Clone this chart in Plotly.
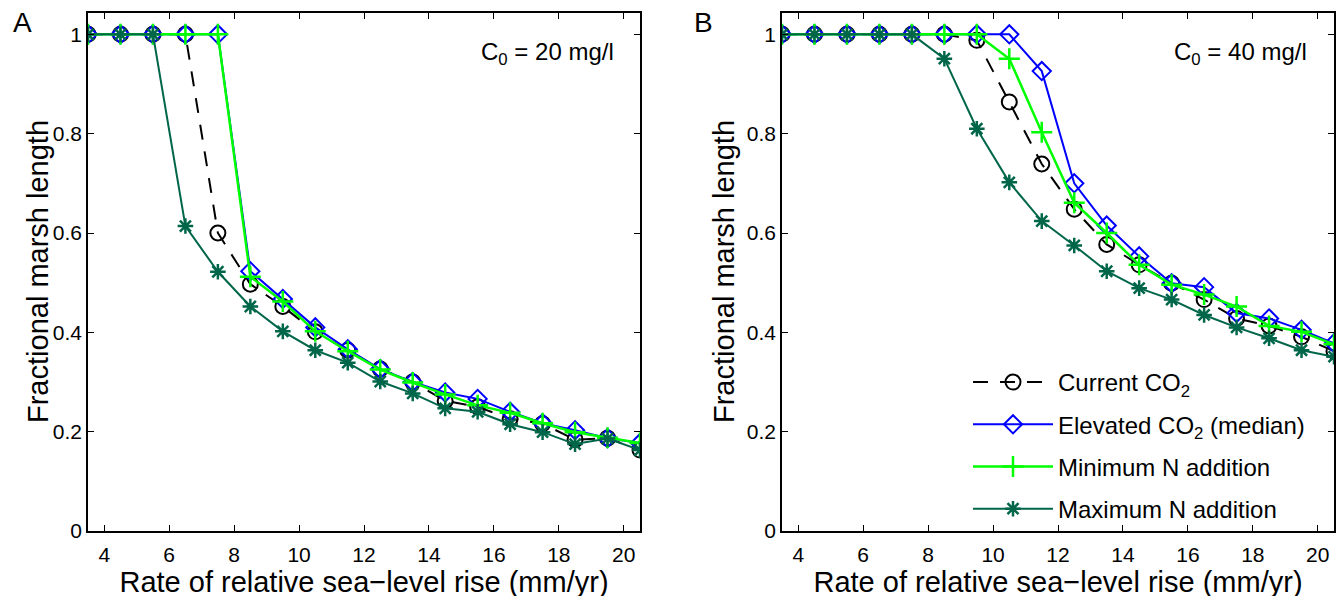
import plotly.graph_objects as go

# ---------------- data ----------------
x_rate = [3.5, 4.5, 5.5, 6.5, 7.5, 8.5, 9.5, 10.5, 11.5, 12.5, 13.5, 14.5, 15.5, 16.5, 17.5, 18.5, 19.5, 20.5]

# Panel A: C0 = 20 mg/l
a_current = [1, 1, 1, 1, 0.60, 0.497, 0.452, 0.401, 0.364, 0.326, 0.300, 0.262, 0.250, 0.226, 0.216, 0.184, 0.187, 0.163]
a_elevated = [1, 1, 1, 1, 1, 0.523, 0.467, 0.410, 0.366, 0.326, 0.300, 0.279, 0.266, 0.240, 0.217, 0.203, 0.187, 0.177]
a_min_n = [1, 1, 1, 1, 1, 0.512, 0.462, 0.402, 0.362, 0.325, 0.299, 0.275, 0.253, 0.238, 0.217, 0.199, 0.188, 0.177]
a_max_n = [1, 1, 1, 0.614, 0.522, 0.452, 0.402, 0.364, 0.339, 0.301, 0.277, 0.247, 0.240, 0.215, 0.199, 0.175, 0.186, 0.163]

# Panel B: C0 = 40 mg/l
b_current = [1, 1, 1, 1, 1, 1, 0.988, 0.864, 0.739, 0.648, 0.577, 0.536, 0.499, 0.466, 0.428, 0.413, 0.391, 0.362]
b_elevated = [1, 1, 1, 1, 1, 1, 1, 1, 0.926, 0.700, 0.615, 0.553, 0.499, 0.491, 0.439, 0.428, 0.405, 0.378]
b_min_n = [1, 1, 1, 1, 1, 1, 1, 0.951, 0.803, 0.661, 0.600, 0.536, 0.496, 0.476, 0.452, 0.413, 0.401, 0.376]
b_max_n = [1, 1, 1, 1, 1, 0.951, 0.810, 0.702, 0.624, 0.575, 0.523, 0.489, 0.466, 0.435, 0.410, 0.388, 0.364, 0.351]

series_names = ["Current CO<sub>2</sub>", "Elevated CO<sub>2</sub> (median)", "Minimum N addition", "Maximum N addition"]
x_ticks = [4, 6, 8, 10, 12, 14, 16, 18, 20]
y_ticks = [0, 0.2, 0.4, 0.6, 0.8, 1]
y_tick_text = ["0", "0.2", "0.4", "0.6", "0.8", "1"]
panel_labels = ["A", "B"]
conc_labels = ["C<sub>0</sub> = 20 mg/l", "C<sub>0</sub> = 40 mg/l"]
x_title = "Rate of relative sea\u2212level rise (mm/yr)"
y_title = "Fractional marsh length"

# ---------------- styles ----------------
FONT = "Liberation Sans, Arial, Helvetica, sans-serif"
DKGREEN = "#00664a"
styles = [
    dict(line=dict(color="black", width=2, dash="15px,12px"),
         marker=dict(symbol="circle-open", size=15, color="black", line=dict(width=2, color="black"))),
    dict(line=dict(color="#0000ff", width=2),
         marker=dict(symbol="diamond-open", size=14, color="#0000ff", line=dict(width=2, color="#0000ff"))),
    dict(line=dict(color="#00ff00", width=2.5),
         marker=dict(symbol="cross-thin-open", size=15, color="#00ff00", line=dict(width=2.5, color="#00ff00"))),
    dict(line=dict(color=DKGREEN, width=2),
         marker=dict(symbol="asterisk-open", size=13, color=DKGREEN, line=dict(width=2.5, color=DKGREEN))),
]

W, H = 1344, 596
OFF = 8  # page body margin
fig = go.Figure()

panels = [
    ([a_current, a_elevated, a_min_n, a_max_n], "x", "y", False),
    ([b_current, b_elevated, b_min_n, b_max_n], "x2", "y2", True),
]
for series, xa, ya, show in panels:
    for i, ys in enumerate(series):
        fig.add_trace(go.Scatter(
            x=x_rate, y=ys, mode="lines+markers", name=series_names[i],
            xaxis=xa, yaxis=ya, showlegend=show, legendgroup=f"g{i}",
            line=styles[i]["line"], marker=styles[i]["marker"],
        ))

def px_x(p):
    return (p - OFF) / W

def px_y(p):
    return 1 - (p - OFF) / H

dom_y = [px_y(531), px_y(13)]
axis_common = dict(
    showline=True, linecolor="black", linewidth=1.5, mirror="allticks",
    ticks="inside", ticklen=6, tickwidth=1, tickcolor="black",
    showgrid=False, zeroline=False,
    tickfont=dict(family=FONT, size=21, color="black"),
)
TITLE_FONT = dict(family=FONT, size=29, color="black")
xaxis_common = dict(axis_common, range=[3.5, 20.5], tickvals=x_ticks, ticklabelstandoff=4,
                    title=dict(text=x_title, font=TITLE_FONT, standoff=0))
yaxis_common = dict(axis_common, range=[0, 1.043], tickvals=y_ticks, ticktext=y_tick_text,
                    ticklabelstandoff=0)

fig.update_layout(
    width=W, height=H,
    paper_bgcolor="white", plot_bgcolor="white",
    margin=dict(l=0, r=0, t=0, b=0, autoexpand=False),
    font=dict(family=FONT, color="black"),
    xaxis=dict(xaxis_common, domain=[px_x(88), px_x(640)], anchor="y"),
    yaxis=dict(yaxis_common, domain=dom_y, anchor="x"),
    xaxis2=dict(xaxis_common, domain=[px_x(782), px_x(1334)], anchor="y2"),
    yaxis2=dict(yaxis_common, domain=dom_y, anchor="x2"),
    legend=dict(
        x=px_x(968), y=px_y(360), xanchor="left", yanchor="top",
        bgcolor="rgba(255,255,255,0)", borderwidth=0,
        font=dict(family=FONT, size=24, color="black"),
        tracegroupgap=8, itemwidth=80,
    ),
    showlegend=True,
)

annotations = [
    dict(text=panel_labels[0], x=px_x(11), y=px_y(22), xanchor="left", yanchor="middle", size=28),
    dict(text=panel_labels[1], x=px_x(692), y=px_y(22), xanchor="left", yanchor="middle", size=28),
    dict(text=conc_labels[0], x=px_x(616), y=px_y(53), xanchor="right", yanchor="middle", size=24),
    dict(text=conc_labels[1], x=px_x(1309), y=px_y(53), xanchor="right", yanchor="middle", size=24),
    dict(text=y_title, x=px_x(38), y=px_y(272), xanchor="center", yanchor="middle", size=29, textangle=-90),
    dict(text=y_title, x=px_x(724), y=px_y(272), xanchor="center", yanchor="middle", size=29, textangle=-90),
]
for a in annotations:
    sz = a.pop("size")
    a.update(xref="paper", yref="paper", showarrow=False,
             font=dict(family=FONT, size=sz, color="black"))
fig.update_layout(annotations=annotations)

fig.write_html("out.html")
